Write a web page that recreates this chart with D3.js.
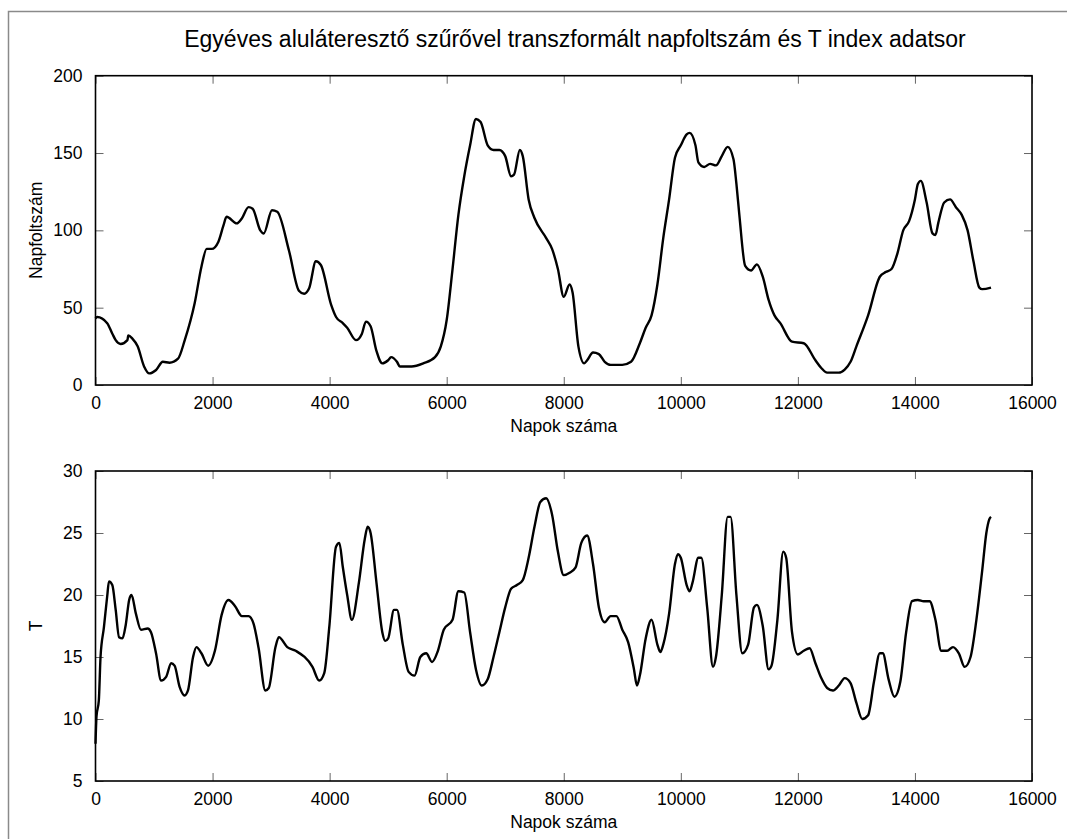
<!DOCTYPE html>
<html>
<head>
<meta charset="utf-8">
<script src="https://cdn.jsdelivr.net/npm/d3@7"></script>
<style>
  body { margin: 0; background: #fff; }
  svg { display: block; font-family: "Liberation Sans", Arial, sans-serif; }
</style>
</head>
<body>
<div id="chart"></div>
<script>
// top panel: low-pass filtered sunspot number
const sunDays = [0, 30, 200, 290, 345, 430, 545, 560, 630, 720, 830, 920, 1035, 1150, 1265, 1410, 1525, 1695, 1810, 1900, 1985, 2100, 2185, 2240, 2415, 2500, 2615, 2685, 2815, 2875, 3015, 3105, 3305, 3475, 3565, 3650, 3765, 3850, 4025, 4110, 4225,
  4300, 4450, 4550, 4620, 4700, 4800, 4900, 5000, 5050, 5150, 5200, 5400, 5600, 5800, 5900, 6000, 6100, 6200, 6300, 6400, 6500, 6580, 6700, 6800, 6900, 7000, 7100, 7150, 7250, 7300, 7400, 7500, 7700, 7800, 7900, 8000, 8100, 8150, 8250, 8350, 8400, 8500, 8600, 8700, 8800, 9000, 9150, 9300, 9400, 9500, 9600, 9700, 9800, 9900, 10000, 10100, 10150, 10250, 10300, 10400, 10500, 10600, 10700, 10800, 10900, 10950, 11000, 11100, 11200, 11300, 11400, 11500, 11600, 11700, 11900, 12100, 12300, 12400, 12500, 12700, 12800, 12900, 13000, 13200, 13400, 13500, 13600, 13700, 13800, 13900, 14000, 14050, 14100, 14200, 14300, 14350, 14400, 14500, 14600, 14700, 14800, 14900, 15000, 15100, 15150, 15300];
const sunspots = [43, 44, 40, 33, 29, 26.5, 29, 32, 30, 25, 12, 7.5, 9.7, 15, 14.4, 17, 29, 53, 76.5, 88, 88, 92.7, 103, 108.8, 104.5, 107.7, 115, 114, 100, 98, 113, 112, 87, 61, 59, 62.5, 80, 77.6, 52, 44, 40,
  37, 29, 33, 41, 38, 22, 14, 16, 18, 15, 12, 12, 14, 18, 25, 42, 75, 110, 135, 155, 172, 170, 155, 152, 152, 148, 135, 136, 152, 148, 120, 108, 95, 88, 75, 57, 65, 60, 25, 14, 16, 21, 20, 15, 13, 13, 15, 27, 37, 45, 65, 95, 120, 147, 155, 162, 163, 155, 144, 141, 143, 142, 148, 154, 146, 130, 110, 77, 74, 78, 70, 55, 45, 40, 28, 27, 16, 11, 8, 8, 10, 15, 25, 45, 70, 73, 75, 85, 100, 106, 120, 130, 132, 118, 98, 97, 105, 118, 120, 115, 110, 100, 80, 63, 62, 63];

// bottom panel: low-pass filtered T index
const tDays = [0, 17, 57, 86, 144, 200, 230, 287, 345, 402, 460, 517, 575, 615, 690, 776, 891, 948, 1034, 1121, 1207, 1293, 1351, 1437, 1523, 1580, 1667, 1724, 1810, 1925, 2040, 2155, 2270, 2385, 2500, 2615, 2700, 2787, 2902, 2960, 3075, 3132, 3276, 3420, 3707, 3822, 3908, 3994, 4109, 4167, 4224,
  4300, 4380, 4500, 4600, 4650, 4700, 4800, 4900, 4950, 5000, 5100, 5150, 5250, 5350, 5450, 5550, 5650, 5750, 5850, 5950, 6100, 6200, 6300, 6400, 6500, 6600, 6700, 6800, 6900, 7000, 7100, 7200, 7300, 7400, 7500, 7600, 7700, 7800, 7900, 8000, 8100, 8200, 8300, 8400, 8500, 8600, 8700, 8800, 8900, 9000, 9100, 9200, 9250, 9300, 9400, 9500, 9600, 9650, 9700, 9800, 9900, 9950, 10000, 10100, 10150, 10200, 10300, 10350, 10450, 10550, 10600, 10700, 10800, 10850, 10950, 11050, 11150, 11250, 11300, 11400, 11500, 11550, 11650, 11750, 11800, 11900, 12000, 12100, 12200, 12300, 12400, 12500, 12600, 12700, 12800, 12900, 13000, 13100, 13200, 13300, 13400, 13450, 13550, 13650, 13750, 13850, 13950, 14050, 14150, 14250, 14350, 14450, 14550, 14650, 14750, 14850, 14950, 15050, 15150, 15220, 15270, 15300];
const tIndex = [8.0, 10.2, 11.5, 15, 17.4, 19.9, 21.1, 20.8, 18.8, 16.6, 16.5, 17.6, 19.6, 20, 18.5, 17.2, 17.3, 17, 15.3, 13.1, 13.4, 14.5, 14.3, 12.6, 11.9, 12.3, 15, 15.8, 15.3, 14.3, 15.5, 18.4, 19.6, 19.1, 18.3, 18.3, 17.7, 15.7, 12.3, 12.5, 15.8, 16.6, 15.8, 15.5, 14.2, 13.1, 13.7, 17.4, 23.9, 24.2, 22.3,
  20, 18, 21, 24.5, 25.5, 25, 21, 17, 16.3, 16.5, 18.8, 18.8, 16, 13.8, 13.5, 15, 15.3, 14.6, 15.5, 17.2, 18, 20.3, 20.2, 17, 14, 12.7, 13.2, 15, 17, 19, 20.5, 20.8, 21.2, 23, 25.5, 27.5, 27.8, 26.5, 23.5, 21.6, 21.8, 22.2, 24.2, 24.8, 22.5, 19, 17.8, 18.3, 18.3, 17.2, 16.2, 14, 12.7, 13.5, 16.5, 18, 16, 15.4, 16, 18.5, 22.5, 23.3, 23, 20.8, 20.3, 21, 23, 23, 19, 14.2, 15, 20, 26.3, 26.3, 20, 15.3, 16, 19, 19.2, 17.5, 14, 14.3, 18, 23.5, 23, 17, 15.2, 15.5, 15.7, 14.5, 13.3, 12.5, 12.3, 12.7, 13.3, 12.9, 11.3, 10, 10.3, 13, 15.3, 15.3, 13.2, 11.8, 13, 17, 19.5, 19.6, 19.5, 19.5, 18, 15.5, 15.5, 15.8, 15.3, 14.2, 15, 18, 22, 25, 26.1, 26.3];

const xTicks = [0, 2000, 4000, 6000, 8000, 10000, 12000, 14000, 16000];
const sunTicks = [0, 50, 100, 150, 200];
const tTicks = [5, 10, 15, 20, 25, 30];

const titleText = 'Egyéves aluláteresztő szűrővel transzformált napfoltszám és T index adatsor';
const xLabel = 'Napok száma';

const W = 1067, H = 839;
const left = 95.5, right = 1032;

const svg = d3.select('#chart').append('svg')
  .attr('width', W)
  .attr('height', H);

svg.append('rect').attr('width', W).attr('height', H).attr('fill', '#fff');
// figure frame (only top / left edges visible)
svg.append('rect')
  .attr('x', 8.5).attr('y', 11.5)
  .attr('width', W).attr('height', H)
  .attr('fill', 'none')
  .attr('stroke', '#8a8a8a')
  .attr('stroke-width', 1.5);

svg.append('text')
  .attr('x', 575).attr('y', 47)
  .attr('text-anchor', 'middle')
  .attr('font-size', 23)
  .text(titleText);

function panel(top, bottom, yDomain, yTicks, yLabel, days, values) {
  const x = d3.scaleLinear().domain([0, 16000]).range([left, right]);
  const y = d3.scaleLinear().domain(yDomain).range([bottom, top]);
  const g = svg.append('g');
  const tickLen = 8;

  // inward ticks on all four sides
  const gx = g.append('g').attr('transform', `translate(0,${bottom})`)
    .call(d3.axisBottom(x).tickValues(xTicks).tickSize(-tickLen).tickPadding(tickLen + 4).tickFormat(d3.format('d')));
  const gxt = g.append('g').attr('transform', `translate(0,${top})`)
    .call(d3.axisTop(x).tickValues(xTicks).tickSize(-tickLen).tickFormat(''));
  const gy = g.append('g').attr('transform', `translate(${left},0)`)
    .call(d3.axisLeft(y).tickValues(yTicks).tickSize(-tickLen).tickPadding(tickLen + 5));
  const gyr = g.append('g').attr('transform', `translate(${right},0)`)
    .call(d3.axisRight(y).tickValues(yTicks).tickSize(-tickLen).tickFormat(''));

  [gx, gxt, gy, gyr].forEach(a => {
    a.select('.domain').remove();
    a.selectAll('.tick line').attr('stroke', '#666').attr('stroke-width', 1);
    a.selectAll('.tick text').attr('fill', '#000').attr('font-size', 17.5)
      .attr('font-family', '"Liberation Sans", Arial, sans-serif');
  });

  const line = d3.line()
    .curve(d3.curveMonotoneX)
    .x(d => x(d[0]))
    .y(d => y(d[1]));

  g.append('path')
    .datum(days.map((d, i) => [d, values[i]]))
    .attr('fill', 'none')
    .attr('stroke', '#000')
    .attr('stroke-width', 2.4)
    .attr('stroke-linejoin', 'round')
    .attr('d', line);

  g.append('rect')
    .attr('x', left).attr('y', top)
    .attr('width', right - left).attr('height', bottom - top)
    .attr('fill', 'none').attr('stroke', '#000').attr('stroke-width', 1.6);

  g.append('text')
    .attr('x', (left + right) / 2).attr('y', bottom + 47)
    .attr('text-anchor', 'middle').attr('font-size', 17.5)
    .text(xLabel);

  g.append('text')
    .attr('transform', `translate(42,${(top + bottom) / 2}) rotate(-90)`)
    .attr('text-anchor', 'middle').attr('font-size', 17.5)
    .text(yLabel);
}

panel(75.7, 385, [0, 200], sunTicks, 'Napfoltszám', sunDays, sunspots);
panel(471, 781, [5, 30], tTicks, 'T', tDays, tIndex);
</script>
</body>
</html>
